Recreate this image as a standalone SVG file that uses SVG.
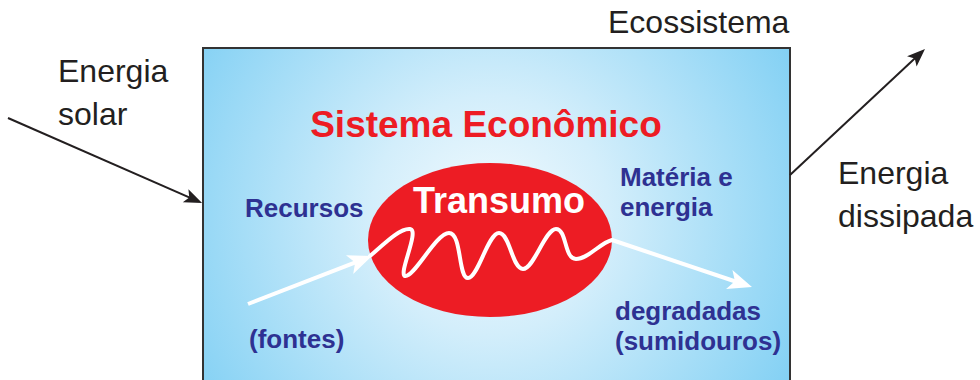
<svg xmlns="http://www.w3.org/2000/svg" width="980" height="380" viewBox="0 0 980 380">
  <style>
    .lbl { font-family: "Liberation Sans", Arial, sans-serif; font-size: 32px; fill: #231f20; }
    .blue { font-family: "Liberation Sans", Arial, sans-serif; font-size: 26px; font-weight: bold; fill: #2e3192; }
    .red { font-family: "Liberation Sans", Arial, sans-serif; font-size: 37px; font-weight: bold; fill: #ed1c24; }
    .white { font-family: "Liberation Sans", Arial, sans-serif; font-size: 36px; font-weight: bold; fill: #ffffff; }
    .blk { fill: none; stroke: #231f20; stroke-width: 2; }
    .wht { fill: none; stroke: #ffffff; stroke-width: 4; }
  </style>
  <defs>
    <radialGradient id="bg" gradientUnits="userSpaceOnUse" cx="490" cy="215" r="340">
      <stop offset="0" stop-color="#f2fafe"/>
      <stop offset="0.35" stop-color="#d3eefb"/>
      <stop offset="1" stop-color="#84d1f4"/>
    </radialGradient>
    <marker id="ahB" viewBox="-14 -8 22 16" refX="0" refY="0" markerWidth="22" markerHeight="16" markerUnits="userSpaceOnUse" orient="auto">
      <path d="M6,0 L-12,-7 L-8,0 L-12,7 Z" fill="#231f20"/>
    </marker>
    <marker id="ahW" viewBox="-18 -11 28 22" refX="0" refY="0" markerWidth="28" markerHeight="22" markerUnits="userSpaceOnUse" orient="auto">
      <path d="M8,0 L-16,-10 L-10,0 L-16,10 Z" fill="#ffffff"/>
    </marker>
  </defs>

  <g id="ecossistema">
    <rect x="203" y="48" width="587" height="360" fill="url(#bg)" stroke="#333333" stroke-width="2"/>
    <text class="lbl" x="608" y="33">Ecossistema</text>
  </g>

  <g id="energia-solar">
    <text class="lbl" x="58" y="82">Energia</text>
    <text class="lbl" x="58" y="125">solar</text>
  </g>

  <g id="energia-dissipada">
    <text class="lbl" x="838" y="184">Energia</text>
    <text class="lbl" x="838" y="227">dissipada</text>
  </g>

  <g id="sistema-economico">
    <text class="red" x="486" y="137" text-anchor="middle">Sistema Econômico</text>
  </g>

  <g id="transumo">
    <ellipse cx="490" cy="240" rx="122" ry="77" fill="#ed1c24"/>
    <text class="white" x="499" y="213" text-anchor="middle">Transumo</text>
    <path class="wht" stroke-width="3.5" stroke-linecap="round" d="M370,256 C385,243 400,228 410,229 C420,230 398,274 405,276 C414,278 436,233 449,233 C462,233 458,278 468,278 C478,278 488,233 499,233 C510,233 512,269 523,269 C534,269 545,229 556,229 C567,229 564,259 576,259 C588,259 600,243 612,240"/>
  </g>

  <g id="recursos">
    <text class="blue" x="245" y="217">Recursos</text>
    <text class="blue" x="249" y="348">(fontes)</text>
  </g>

  <g id="materia">
    <text class="blue" x="620" y="186">Matéria e</text>
    <text class="blue" x="620" y="216">energia</text>
    <text class="blue" x="615" y="320">degradadas</text>
    <text class="blue" x="615" y="350">(sumidouros)</text>
  </g>

  <g id="connectors">
    <path class="blk" d="M8,118 L196.6,200.6" marker-end="url(#ahB)"/>
    <path class="blk" d="M790,175 L920.6,53.1" marker-end="url(#ahB)"/>
    <path class="wht" d="M248,304 L364.5,258.9" marker-end="url(#ahW)"/>
    <path class="wht" d="M612,240 L744.4,284.5" marker-end="url(#ahW)"/>
  </g>
</svg>
